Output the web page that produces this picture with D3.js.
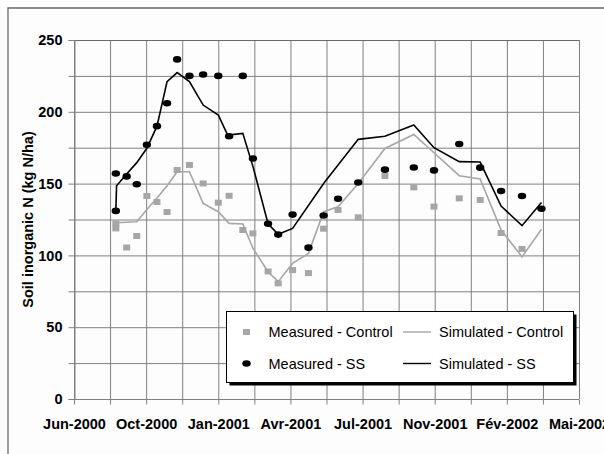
<!DOCTYPE html>
<html>
<head>
<meta charset="utf-8">
<script src="https://cdn.jsdelivr.net/npm/d3@7"></script>
<style>
  body { margin: 0; background: #fdfdfd; }
  svg { font-family: "Liberation Sans", Arial, sans-serif; }
  .axis text { font-size: 14.5px; font-weight: bold; fill: #000; }
  .axis path, .axis line { stroke: #808080; }
  .legend-text { font-size: 14.5px; fill: #000; }
</style>
</head>
<body>
<svg id="chart" width="604" height="454"></svg>
<script>
// ---- data ----
var measDates = ["2000-08-20", "2000-08-20", "2000-09-04", "2000-09-18", "2000-10-02", "2000-10-16",
  "2000-10-30", "2000-11-13", "2000-11-30", "2000-12-19", "2001-01-09", "2001-01-24", "2001-02-12",
  "2001-02-26", "2001-03-19", "2001-04-02", "2001-04-22", "2001-05-14", "2001-06-04", "2001-06-24",
  "2001-07-22", "2001-08-28", "2001-10-07", "2001-11-04", "2001-12-09", "2002-01-07", "2002-02-05",
  "2002-03-06", "2002-04-02"];

var measuredSS = [131, 157, 155, 149.5, 177, 190, 206, 236.5, 225, 226, 225, 183, 225,
  167.5, 122, 114.5, 128.4, 105.4, 127.8, 139.5, 150.8, 159.7, 161.2, 159.2, 177.6, 161.1,
  144.8, 141.4, 132.5];

var measuredControl = [122.3, 118.8, 105.5, 113.5, 141.4, 137.2, 130.2, 159.5, 163, 150.1, 136.7,
  141.5, 117.7, 115.3, 88.8, 80.5, 89.8, 87.7, 118.6, 131.6, 126.5, 155.3, 147.4, 134, 139.7,
  138.6, 115.6, 104.5];

var simSSDates = ["2000-08-20", "2000-08-21", "2000-09-04", "2000-09-18", "2000-10-02", "2000-10-16",
  "2000-10-30", "2000-11-13", "2000-11-30", "2000-12-19", "2001-01-09", "2001-01-22", "2001-02-12",
  "2001-02-26", "2001-03-19", "2001-04-02", "2001-04-22", "2001-06-05", "2001-07-22", "2001-08-28",
  "2001-10-07", "2001-11-04", "2001-12-09", "2002-01-07", "2002-02-05", "2002-03-06", "2002-04-02"];
var simulatedSS = [131, 148.5, 156.7, 164.6, 174.6, 190, 221, 227.3, 221, 204.7, 197.8, 183.8, 185,
  162, 122, 114.7, 118.8, 150.7, 180.8, 183, 190.8, 175, 165.3, 165, 134.4, 120.7, 136.9];

var simControlDates = ["2000-08-20", "2000-09-18", "2000-10-02", "2000-10-16", "2000-10-30",
  "2000-11-13", "2000-11-30", "2000-12-19", "2001-01-09", "2001-01-24", "2001-02-12", "2001-02-26",
  "2001-03-19", "2001-04-02", "2001-04-22", "2001-05-14", "2001-06-04", "2001-06-24", "2001-07-22",
  "2001-08-28", "2001-10-07", "2001-11-04", "2001-12-09", "2002-01-07", "2002-02-05", "2002-03-06",
  "2002-04-02"];
var simulatedControl = [122.7, 123.4, 132, 140, 148.5, 158.3, 158.3, 136.2, 130.4, 122.3, 121.9, 105,
  88.6, 81.7, 94.4, 101.4, 130.4, 133.8, 150.1, 174.5, 184.2, 171.5, 155.5, 153.2, 117.7, 99, 118.2];

var xTickLabels = ["Jun-2000", "Oct-2000", "Jan-2001", "Avr-2001", "Jul-2001", "Nov-2001", "Fév-2002", "Mai-2002"];
var yTicks = [0, 25, 50, 75, 100, 125, 150, 175, 200, 225, 250];
var yTickLabels = [0, 50, 100, 150, 200, 250];

var legendItems = [
  { label: "Measured - Control", type: "square", col: 0, row: 0 },
  { label: "Simulated - Control", type: "greyline", col: 1, row: 0 },
  { label: "Measured - SS", type: "dot", col: 0, row: 1 },
  { label: "Simulated - SS", type: "blackline", col: 1, row: 1 }
];

var parse = d3.utcParse("%Y-%m-%d");
var plot = { left: 74, right: 579, top: 40, bottom: 399 };
var greyCol = "#a6a6a6";
var gridCol = "#8c8c8c";

var svg = d3.select("#chart");

// x axis runs 700 days, gridline every 50 days, label every 100
var xStart = parse("2000-06-23");
var xEnd = d3.utcDay.offset(xStart, 700);
var x = d3.scaleUtc().domain([xStart, xEnd]).range([plot.left, plot.right]);
var y = d3.scaleLinear().domain([0, 250]).range([plot.bottom, plot.top]);

var xGridDates = d3.range(0, 15).map(function (i) { return d3.utcDay.offset(xStart, i * 50); });

drawFrame();
drawAxes();
drawSeries();
drawLegend();

/*
  NAME: drawFrame
  DESCRIPTION: outer frame (top and left edges only) and the plot gridlines,
               gridlines made with axis ticks stretched across the plot
*/
function drawFrame() {
  svg.append("polyline")
    .attr("points", "8,454 8,8 604,8")
    .attr("fill", "none")
    .attr("stroke", "#6a6a6a")
    .attr("stroke-width", 1.3);

  svg.append("g")
    .attr("class", "axis y-gridlines")
    .attr("transform", "translate(" + plot.left + ",0)")
    .call(d3.axisLeft(y).tickValues(yTicks).tickSize(-(plot.right - plot.left)).tickFormat(""))
    .call(function (g) {
      g.select(".domain").remove();
      g.selectAll("line").attr("stroke", gridCol);
    });

  svg.append("g")
    .attr("class", "axis x-gridlines")
    .attr("transform", "translate(0," + plot.bottom + ")")
    .call(d3.axisBottom(x).tickValues(xGridDates).tickSize(-(plot.bottom - plot.top)).tickFormat(""))
    .call(function (g) {
      g.select(".domain").remove();
      g.selectAll("line").attr("stroke", gridCol);
    });
  return;
} // end function drawFrame

/*
  NAME: drawAxes
  DESCRIPTION: x date axis and y value axis with tick labels and title
*/
function drawAxes() {
  var xAxis = d3.axisBottom(x)
    .tickValues(xGridDates)
    .tickSize(5)
    .tickPadding(14)
    .tickFormat(function (d, i) { return i % 2 == 0 ? xTickLabels[i / 2] : ""; });

  svg.append("g")
    .attr("class", "axis x-axis")
    .attr("transform", "translate(0," + (plot.bottom + 0.5) + ")")
    .call(xAxis)
    .call(function (g) { g.select(".domain").remove(); });

  svg.append("line")
    .attr("x1", plot.left).attr("x2", plot.right)
    .attr("y1", plot.bottom + 0.5).attr("y2", plot.bottom + 0.5)
    .style("stroke", "#808080");

  svg.append("line")
    .attr("x1", plot.left).attr("x2", plot.right)
    .attr("y1", plot.top + 0.5).attr("y2", plot.top + 0.5)
    .style("stroke", "#6a6a6a");

  var yAxis = d3.axisLeft(y)
    .tickValues(yTicks)
    .tickSize(6)
    .tickPadding(6)
    .tickFormat(function (d) { return yTickLabels.indexOf(d) >= 0 ? d : ""; });

  svg.append("g")
    .attr("class", "axis y-axis")
    .attr("transform", "translate(" + (plot.left + 0.5) + ",0)")
    .call(yAxis);

  svg.append("text")
    .attr("transform", "translate(33," + ((plot.top + plot.bottom) / 2) + ") rotate(-90)")
    .attr("text-anchor", "middle")
    .style("font-size", "14.5px")
    .style("font-weight", "bold")
    .text("Soil inorganic N (kg N/ha)");
  return;
} // end function drawAxes

/*
  NAME: drawSeries
  DESCRIPTION: simulated lines and measured markers
*/
function drawSeries() {
  var line = d3.line()
    .x(function (d) { return x(d.date); })
    .y(function (d) { return y(d.value); });

  var simControl = simControlDates.map(function (d, i) { return { date: parse(d), value: simulatedControl[i] }; });
  var simSS = simSSDates.map(function (d, i) { return { date: parse(d), value: simulatedSS[i] }; });
  var measControl = measuredControl.map(function (v, i) { return { date: parse(measDates[i]), value: v }; });
  var measSS = measuredSS.map(function (v, i) { return { date: parse(measDates[i]), value: v }; });

  svg.append("path").datum(simControl)
    .attr("d", line).attr("fill", "none")
    .attr("stroke", greyCol).attr("stroke-width", 1.6);

  svg.append("path").datum(simSS)
    .attr("d", line).attr("fill", "none")
    .attr("stroke", "#000").attr("stroke-width", 1.6);

  svg.selectAll(".meas-control")
    .data(measControl)
    .enter()
    .append("rect")
    .attr("class", "meas-control")
    .attr("x", function (d) { return x(d.date) - 3.5; })
    .attr("y", function (d) { return y(d.value) - 3; })
    .attr("width", 7)
    .attr("height", 6)
    .attr("fill", greyCol);

  svg.selectAll(".meas-ss")
    .data(measSS)
    .enter()
    .append("ellipse")
    .attr("class", "meas-ss")
    .attr("cx", function (d) { return x(d.date); })
    .attr("cy", function (d) { return y(d.value); })
    .attr("rx", 4.2)
    .attr("ry", 3.3)
    .attr("fill", "#000");
  return;
} // end function drawSeries

/*
  NAME: drawLegend
  DESCRIPTION: boxed legend with drop shadow, two rows by two columns
*/
function drawLegend() {
  var box = { x: 226.5, y: 311.5, w: 347, h: 71 };
  var g = svg.append("g").attr("class", "legend");

  g.append("rect")
    .attr("x", box.x + 3).attr("y", box.y + 3)
    .attr("width", box.w).attr("height", box.h)
    .attr("fill", "#000");
  g.append("rect")
    .attr("x", box.x).attr("y", box.y)
    .attr("width", box.w).attr("height", box.h)
    .attr("fill", "#fff").attr("stroke", "#000").attr("stroke-width", 1);

  var colX = [246.5, 417];
  var rowY = [332, 363.5];

  var item = g.selectAll(".legend-item")
    .data(legendItems)
    .enter()
    .append("g")
    .attr("class", "legend-item")
    .attr("transform", function (d) { return "translate(" + colX[d.col] + "," + rowY[d.row] + ")"; });

  item.each(function (d) {
    var s = d3.select(this);
    if (d.type == "square") {
      s.append("rect").attr("x", -3.5).attr("y", -3).attr("width", 7).attr("height", 6).attr("fill", greyCol);
    } else if (d.type == "dot") {
      s.append("ellipse").attr("rx", 4.2).attr("ry", 3.3).attr("fill", "#000");
    } else {
      s.append("line").attr("x1", -14).attr("x2", 14).attr("y1", 0).attr("y2", 0)
        .attr("stroke", d.type == "greyline" ? greyCol : "#000").attr("stroke-width", 1.4);
    }
  });

  item.append("text")
    .attr("class", "legend-text")
    .attr("x", 22)
    .attr("dy", "0.35em")
    .text(function (d) { return d.label; });
  return;
} // end function drawLegend
</script>
</body>
</html>
